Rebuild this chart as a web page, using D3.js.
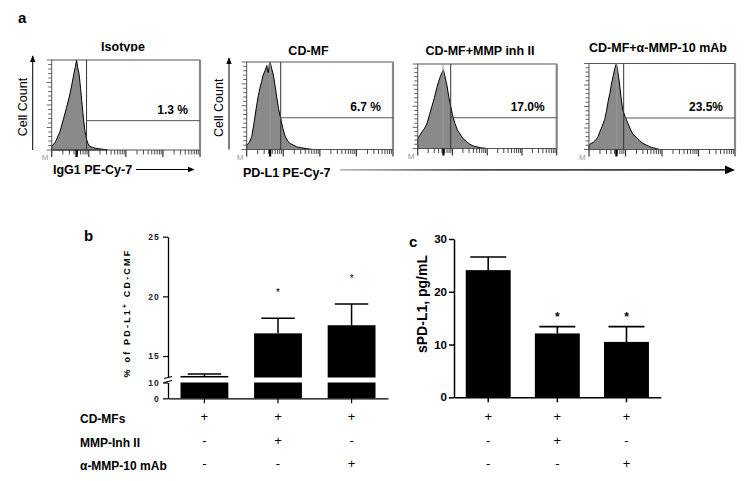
<!DOCTYPE html>
<html><head><meta charset="utf-8">
<script src="https://cdn.jsdelivr.net/npm/d3@7"></script>
<style>body{margin:0;background:#fff} svg{display:block}</style>
</head><body><svg id="c" width="756" height="481"></svg>
<script>
// ---------- DATA ----------
const flowTitles = ["Isotype", "CD-MF", "CD-MF+MMP inh II", "CD-MF+α-MMP-10 mAb"];
const flowPercents = ["1.3 %", "6.7 %", "17.0%", "23.5%"];
const gateLog = [0.94, 0.93, 0.95, 0.95];          // gate position, log10 fluorescence
const gateCount = [0.326, 0.363, 0.364, 0.366];     // gate bracket height (fraction of max)
const peakLineLog = [null, 0.64, 0.73, 0.76];      // grey reference line
// histograms: [log10 fluorescence, relative cell count]
const histIsotype = [[0,0.04],[0.1,0.09],[0.22,0.2],[0.32,0.35],[0.40,0.47],[0.48,0.6],[0.54,0.72],[0.6,0.85],[0.64,0.93],[0.67,1.0],[0.7,0.92],[0.74,0.84],[0.78,0.68],[0.81,0.55],[0.84,0.42],[0.87,0.3],[0.9,0.2],[0.94,0.12],[0.98,0.07],[1.03,0.04],[1.1,0.03],[1.17,0.02],[1.26,0.015],[1.35,0.01],[1.42,0.005],[1.5,0]];
const histCDMF = [[0,0.05],[0.07,0.08],[0.14,0.15],[0.2,0.3],[0.27,0.5],[0.32,0.62],[0.36,0.7],[0.41,0.78],[0.45,0.85],[0.5,0.9],[0.55,0.96],[0.57,0.9],[0.59,0.88],[0.62,0.97],[0.64,1.0],[0.68,0.93],[0.73,0.85],[0.78,0.72],[0.82,0.6],[0.87,0.47],[0.93,0.35],[0.99,0.24],[1.05,0.15],[1.12,0.1],[1.18,0.07],[1.28,0.05],[1.37,0.03],[1.5,0.02],[1.64,0.01],[1.82,0]];
const histInh = [[0,0.12],[0.05,0.15],[0.13,0.2],[0.2,0.24],[0.27,0.3],[0.34,0.4],[0.41,0.5],[0.48,0.6],[0.55,0.72],[0.6,0.79],[0.65,0.85],[0.7,0.9],[0.74,0.93],[0.78,0.86],[0.84,0.75],[0.9,0.6],[0.95,0.5],[1.0,0.4],[1.07,0.3],[1.14,0.22],[1.22,0.17],[1.3,0.12],[1.41,0.08],[1.5,0.05],[1.6,0.03],[1.7,0.02],[1.8,0.01],[1.99,0]];
const histMab = [[0,0.05],[0.05,0.07],[0.11,0.08],[0.16,0.1],[0.2,0.12],[0.25,0.15],[0.29,0.2],[0.36,0.27],[0.43,0.35],[0.48,0.45],[0.52,0.55],[0.57,0.65],[0.61,0.75],[0.66,0.85],[0.7,0.93],[0.75,1.0],[0.8,0.88],[0.84,0.75],[0.88,0.6],[0.93,0.45],[1.0,0.37],[1.07,0.3],[1.13,0.24],[1.2,0.18],[1.3,0.14],[1.39,0.1],[1.48,0.07],[1.58,0.05],[1.67,0.03],[1.76,0.02],[1.85,0.01],[1.94,0]];
const histograms = [histIsotype, histCDMF, histInh, histMab];
const flowDecades = [0, 1, 2, 3, 4];

const groups = ["CD-MF", "CD-MF+MMP-Inh II", "CD-MF+α-MMP-10 mAb"];
const pdl1Mean = [13.33, 16.9, 17.58];
const pdl1Err = [0.17, 1.26, 1.78];
const pdl1Sig = [false, true, true];
const pdl1UpperTicks = [15, 20, 25];
const pdl1LowerTicks = [0, 10];
const spdMean = [24.1, 12.1, 10.5];
const spdErr = [2.5, 1.3, 2.9];
const spdSig = [false, true, true];
const spdTicks = [0, 10, 20, 30];
const rowLabels = ["CD-MFs", "MMP-Inh II", "α-MMP-10 mAb"];
const treatment = [["+","+","+"], ["-","+","-"], ["-","-","+"]];

// ---------- LAYOUT ----------
const svg = d3.select("#c");
const F = "'Liberation Sans', Arial, Helvetica, sans-serif";
const NARROW = "'Liberation Sans Narrow', 'Arial Narrow', " + F;

const boxes = [
  {x0:51.7, x1:200, y0:60, y1:150, tx:123, ty:51},
  {x0:246.7, x1:393, y0:62, y1:149.5, tx:308.5, ty:55},
  {x0:417.7, x1:556.7, y0:64, y1:148.5, tx:480, ty:55},
  {x0:589, x1:735, y0:63.5, y1:149.5, tx:658, ty:52}
];

const defs = svg.append("defs");
defs.append("clipPath").attr("id","clipT").append("rect").attr("x",0).attr("y",0).attr("width",756).attr("height",51.5);
const grad = defs.append("linearGradient").attr("id","gArrow");
grad.append("stop").attr("offset","0%").attr("stop-color","#aaa");
grad.append("stop").attr("offset","35%").attr("stop-color","#222");
grad.append("stop").attr("offset","100%").attr("stop-color","#000");
defs.append("marker").attr("id","ah").attr("viewBox","0 0 10 10").attr("refX",9).attr("refY",5)
  .attr("markerWidth",7).attr("markerHeight",7).attr("markerUnits","userSpaceOnUse").attr("orient","auto")
  .append("path").attr("d","M0,1L10,5L0,9Z").attr("fill","#000");

svg.append("text").attr("x",18).attr("y",23).attr("font-family",F).attr("font-weight","bold")
  .attr("font-size",15).text("a");

boxes.forEach((b, i) => {
  const g = svg.append("g");
  const x = d3.scaleLinear([0, 4], [b.x0, b.x1]);
  const y = d3.scaleLinear([0, 1], [b.y1, b.y0]);
  // histogram
  g.append("path").datum(histograms[i])
    .attr("d", d3.area().x(d => x(d[0])).y0(y(0)).y1(d => y(d[1])))
    .attr("fill", "#8a8a8a").attr("stroke", "#000").attr("stroke-width", 1);
  // box
  g.append("rect").attr("x", b.x0).attr("y", b.y0).attr("width", b.x1 - b.x0).attr("height", b.y1 - b.y0)
    .attr("fill", "none").attr("stroke", "#555").attr("stroke-width", 1);
  g.append("line").attr("x1", b.x1).attr("x2", b.x1).attr("y1", b.y0).attr("y2", b.y1)
    .attr("stroke", "#888").attr("stroke-width", 2.2);
  if (peakLineLog[i] !== null) {
    g.append("line").attr("x1", x(peakLineLog[i])).attr("x2", x(peakLineLog[i])).attr("y1", b.y0).attr("y2", b.y1)
      .attr("stroke", "#999").attr("stroke-width", 1);
  }
  // gate
  g.append("line").attr("x1", x(gateLog[i])).attr("x2", x(gateLog[i])).attr("y1", b.y0).attr("y2", b.y1)
    .attr("stroke", "#333").attr("stroke-width", 1);
  g.append("line").attr("x1", x(gateLog[i])).attr("x2", b.x1).attr("y1", y(gateCount[i])).attr("y2", y(gateCount[i]))
    .attr("stroke", "#555").attr("stroke-width", 1);
  g.append("text").attr("x", b.x1 - 12).attr("y", y(gateCount[i]) - 7).attr("text-anchor", "end")
    .attr("font-family", F).attr("font-weight", "bold").attr("font-size", 12).text(flowPercents[i]);
  // bottom log ticks
  const tks = [];
  flowDecades.slice(0, -1).forEach(d => d3.range(1, 10).forEach(m => tks.push({v: d + Math.log10(m), major: m === 1})));
  tks.push({v: 4, major: true});
  g.selectAll(".bt").data(tks).join("line")
    .attr("x1", d => x(d.v)).attr("x2", d => x(d.v)).attr("y1", b.y1).attr("y2", d => b.y1 + (d.major ? 7 : 4.5))
    .attr("stroke", "#333").attr("stroke-width", d => d.major ? 1.2 : 0.9);
  // thick marker at peak
  const pk = histograms[i].reduce((a, c) => c[1] > a[1] ? c : a);
  g.append("line").attr("x1", x(pk[0])).attr("x2", x(pk[0])).attr("y1", b.y1).attr("y2", b.y1 + 7)
    .attr("stroke", "#000").attr("stroke-width", 2.2);
  // left ticks
  g.selectAll(".lt").data(d3.range(0, 1.0001, 0.05)).join("line")
    .attr("x1", b.x0).attr("x2", (d, k) => b.x0 - (k % 5 === 0 ? 5 : 3.5))
    .attr("y1", d => y(d)).attr("y2", d => y(d)).attr("stroke", "#444").attr("stroke-width", 0.8);
  g.append("text").attr("x", b.x0 - 10).attr("y", b.y1 + 10).attr("font-family", F).attr("font-size", 8)
    .attr("fill", "#999").text("M");
  // title
  const t = g.append("text").attr("x", b.tx).attr("y", b.ty).attr("text-anchor", "middle")
    .attr("font-family", F).attr("font-weight", "bold").attr("font-size", 12.5).text(flowTitles[i]);
  if (i === 0) t.attr("clip-path", "url(#clipT)");
});

// y-arrows and Cell Count labels
[{ax:32.7, lx:26.5, b:boxes[0]}, {ax:229, lx:222.5, b:boxes[1]}].forEach(o => {
  svg.append("line").attr("x1", o.ax).attr("x2", o.ax).attr("y1", o.b.y1).attr("y2", o.b.y0 - 4)
    .attr("stroke", "#000").attr("stroke-width", 1).attr("marker-end", "url(#ah)");
  svg.append("text").attr("transform", `translate(${o.lx},${(o.b.y0 + o.b.y1) / 2 + 2}) rotate(-90)`)
    .attr("text-anchor", "middle").attr("font-family", F).attr("font-size", 12.5).text("Cell Count");
});
// x labels and arrows
svg.append("text").attr("x", 53).attr("y", 174).attr("font-family", F).attr("font-weight", "bold")
  .attr("font-size", 12.5).text("IgG1 PE-Cy-7");
svg.append("line").attr("x1", 136).attr("x2", 194).attr("y1", 169.5).attr("y2", 169.5)
  .attr("stroke", "#000").attr("stroke-width", 1).attr("marker-end", "url(#ah)");
svg.append("text").attr("x", 243).attr("y", 177).attr("font-family", F).attr("font-weight", "bold")
  .attr("font-size", 12.5).text("PD-L1 PE-Cy-7");
svg.append("rect").attr("x", 340).attr("y", 169.2).attr("width", 388).attr("height", 1.4).attr("fill", "url(#gArrow)");
svg.append("path").attr("d", "M725,165.5L735,169.9L725,174.3Z").attr("fill", "#000");

// ---------- PANEL b ----------
const xb = d3.scaleBand(groups, [168, 388]).paddingInner(0.35).paddingOuter(0.17);
const yU = d3.scaleLinear([13.2, 25], [377.5, 236.7]);
const yL = d3.scaleLinear([0, 10], [398.3, 382.5]);
const gb = svg.append("g");
svg.append("text").attr("x", 84).attr("y", 241).attr("font-family", F).attr("font-weight", "bold")
  .attr("font-size", 15).text("b");
gb.selectAll(".bu").data(groups).join("rect")
  .attr("x", d => xb(d)).attr("width", xb.bandwidth())
  .attr("y", (d, i) => yU(pdl1Mean[i])).attr("height", (d, i) => yU.range()[0] - yU(pdl1Mean[i])).attr("fill", "#000");
gb.selectAll(".bl").data(groups).join("rect")
  .attr("x", d => xb(d)).attr("width", xb.bandwidth())
  .attr("y", yL(10)).attr("height", yL(0) - yL(10)).attr("fill", "#000");
const capB = xb.bandwidth() * 0.7;
groups.forEach((g, i) => {
  const cx = xb(g) + xb.bandwidth() / 2;
  gb.append("path").attr("d", `M${cx},${yU(pdl1Mean[i])}V${yU(pdl1Mean[i] + pdl1Err[i])}M${cx - capB / 2},${yU(pdl1Mean[i] + pdl1Err[i])}H${cx + capB / 2}`)
    .attr("stroke", "#000").attr("stroke-width", 1.5).attr("fill", "none");
  if (pdl1Sig[i]) gb.append("text").attr("x", cx).attr("y", yU(pdl1Mean[i] + pdl1Err[i]) - 22)
    .attr("text-anchor", "middle").attr("font-family", F).attr("font-size", 10).text("*");
});
const axU = gb.append("g").attr("transform", "translate(168,0)")
  .call(d3.axisLeft(yU).tickValues(pdl1UpperTicks).tickSize(5).tickSizeOuter(0).tickPadding(3));
const axL = gb.append("g").attr("transform", "translate(168,0)")
  .call(d3.axisLeft(yL).tickValues(pdl1LowerTicks).tickSize(5).tickSizeOuter(0).tickPadding(3));
[axU, axL].forEach(a => {
  a.select(".domain").attr("stroke-width", 1.3);
  a.selectAll(".tick line").attr("stroke-width", 1.2);
  a.selectAll("text").attr("font-family", F).attr("font-weight", "bold").attr("font-size", 8.5)
    .attr("letter-spacing", "1.2px").attr("fill", "#222");
});
gb.append("path").attr("d", "M164,378.5L172,376.5M164,382.5L172,380.5").attr("stroke", "#000").attr("stroke-width", 1.2);
const axBx = gb.append("g").attr("transform", `translate(0,${yL(0)})`)
  .call(d3.axisBottom(xb).tickSize(5).tickSizeOuter(0).tickFormat(""));
axBx.select(".domain").attr("stroke-width", 1.3);
axBx.selectAll(".tick line").attr("stroke-width", 1.2);
const yLab = gb.append("text").attr("transform", "translate(130,313) rotate(-90)").attr("text-anchor", "middle")
  .attr("font-family", F).attr("font-weight", "bold").attr("font-size", 9).attr("letter-spacing", "2.2px");
yLab.append("tspan").text("% of PD-L1");
yLab.append("tspan").attr("baseline-shift", "super").attr("font-size", 6.5).text("+");
yLab.append("tspan").text(" CD-CMF");

// ---------- PANEL c ----------
const xc = d3.scaleBand(groups, [454, 660.7]).paddingInner(0.35).paddingOuter(0.17);
const yc = d3.scaleLinear([0, 30], [397.3, 239]);
const gc = svg.append("g");
svg.append("text").attr("x", 409).attr("y", 247).attr("font-family", F).attr("font-weight", "bold")
  .attr("font-size", 15).text("c");
gc.selectAll(".bc").data(groups).join("rect")
  .attr("x", d => xc(d)).attr("width", xc.bandwidth())
  .attr("y", (d, i) => yc(spdMean[i])).attr("height", (d, i) => yc(0) - yc(spdMean[i])).attr("fill", "#000");
const capC = xc.bandwidth() * 0.8;
groups.forEach((g, i) => {
  const cx = xc(g) + xc.bandwidth() / 2;
  gc.append("path").attr("d", `M${cx},${yc(spdMean[i])}V${yc(spdMean[i] + spdErr[i])}M${cx - capC / 2},${yc(spdMean[i] + spdErr[i])}H${cx + capC / 2}`)
    .attr("stroke", "#000").attr("stroke-width", 1.6).attr("fill", "none");
  if (spdSig[i]) gc.append("text").attr("x", cx).attr("y", yc(spdMean[i] + spdErr[i]) - 6)
    .attr("text-anchor", "middle").attr("font-family", F).attr("font-weight", "bold").attr("font-size", 12).text("*");
});
const axC = gc.append("g").attr("transform", "translate(454,0)")
  .call(d3.axisLeft(yc).tickValues(spdTicks).tickSize(5).tickSizeOuter(0).tickPadding(2));
axC.select(".domain").attr("stroke-width", 1.5);
axC.selectAll(".tick line").attr("stroke-width", 1.5);
axC.selectAll("text").attr("font-family", F).attr("font-weight", "bold").attr("font-size", 11.5).attr("fill", "#000");
const axCx = gc.append("g").attr("transform", `translate(0,${yc(0)})`)
  .call(d3.axisBottom(xc).tickSize(5).tickSizeOuter(0).tickFormat(""));
axCx.select(".domain").attr("stroke-width", 1.5);
axCx.selectAll(".tick line").attr("stroke-width", 1.5);
gc.append("text").attr("transform", "translate(426.5,304) rotate(-90)").attr("text-anchor", "middle")
  .attr("font-family", F).attr("font-weight", "bold").attr("font-size", 14).text("sPD-L1, pg/mL");

// ---------- TREATMENT TABLE ----------
const rowY = [423, 447, 470];
rowLabels.forEach((lab, r) => {
  svg.append("text").attr("x", 80).attr("y", rowY[r]).attr("font-family", NARROW).attr("font-weight", "bold")
    .attr("font-size", 12).text(lab);
  [xb, xc].forEach(sc => {
    groups.forEach((g, k) => {
      svg.append("text").attr("x", sc(g) + sc.bandwidth() / 2).attr("y", rowY[r] - 2).attr("text-anchor", "middle")
        .attr("font-family", F).attr("font-size", 13).text(treatment[r][k]);
    });
  });
});
</script></body></html>
